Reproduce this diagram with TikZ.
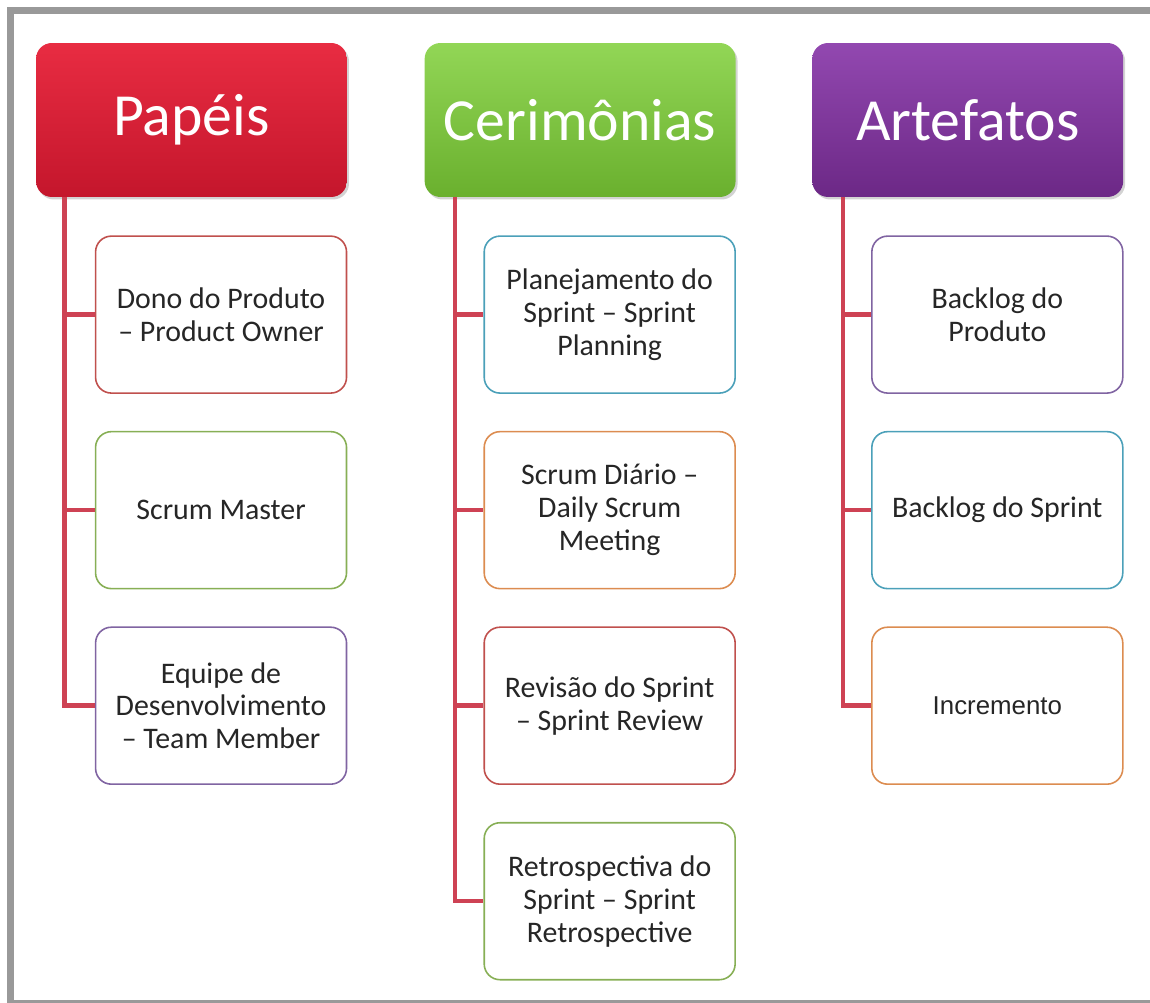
\documentclass[tikz,border=0pt]{standalone}
\usepackage{fontspec}
\setmainfont{Carlito}
\newfontfamily\arialfont{Liberation Sans}
\usetikzlibrary{positioning,shadows}

\definecolor{framegray}{RGB}{153,153,153}
\definecolor{trunkred}{RGB}{206,66,84}
\definecolor{redtop}{RGB}{232,44,66}
\definecolor{redbot}{RGB}{196,22,44}
\definecolor{greentop}{RGB}{146,214,86}
\definecolor{greenbot}{RGB}{106,176,46}
\definecolor{purpletop}{RGB}{146,72,176}
\definecolor{purplebot}{RGB}{108,40,134}
\definecolor{lnred}{RGB}{192,80,77}
\definecolor{lngreen}{RGB}{135,175,85}
\definecolor{lnpurple}{RGB}{128,100,162}
\definecolor{lnteal}{RGB}{75,160,185}
\definecolor{lnorange}{RGB}{220,140,80}

\tikzset{
    head/.style={rectangle, rounded corners=9pt, minimum width=6.22cm, minimum height=3.08cm,
        text=white, font=\fontsize{34}{40}\selectfont,
        drop shadow={opacity=0.35, shadow xshift=0.04cm, shadow yshift=-0.05cm}},
    item/.style={rectangle, rounded corners=9pt, draw, line width=0.9pt, fill=white,
        minimum width=5.02cm, minimum height=3.14cm, align=center, text=black!85,
        font=\fontsize{17}{18.7}\selectfont},
    trunk/.style={draw=trunkred, line width=2.5pt}
}

\begin{document}
\begin{tikzpicture}[x=0.02cm, y=-0.02cm]
        \useasboundingbox (0,0) rectangle (1150,1003);
        \clip (0,0) rectangle (1150,1003);

        % outer frame, open on the right
        \draw[framegray, line width=4pt] (1200,10.5) -- (10.5,10.5) -- (10.5,1003.5) -- (1200,1003.5);

        %-----Headers-----
        \node[head, top color=redtop, bottom color=redbot] (papeis) at (191.5,120) {Papéis};
        \node[head, top color=greentop, bottom color=greenbot, right=1.54cm of papeis] (cerim) {Cerimônias};
        \node[head, top color=purpletop, bottom color=purplebot, right=1.52cm of cerim] (artef) {Artefatos};

        %-----Papeis-----
        \node[item, draw=lnred, below=0.76cm of papeis.south east, anchor=north east] (dono) {Dono do Produto\\– Product Owner};
        \node[item, draw=lngreen, below=0.74cm of dono] (master) {Scrum Master};
        \node[item, draw=lnpurple, below=0.74cm of master] (equipe) {Equipe de\\Desenvolvimento\\– Team Member};

        %-----Cerimonias-----
        \node[item, draw=lnteal, below=0.76cm of cerim.south east, anchor=north east] (planning) {Planejamento do\\Sprint – Sprint\\Planning};
        \node[item, draw=lnorange, below=0.74cm of planning] (daily) {Scrum Diário –\\Daily Scrum\\Meeting};
        \node[item, draw=lnred, below=0.74cm of daily] (review) {Revisão do Sprint\\– Sprint Review};
        \node[item, draw=lngreen, below=0.74cm of review] (retro) {Retrospectiva do\\Sprint – Sprint\\Retrospective};

        %-----Artefatos-----
        \node[item, draw=lnpurple, below=0.76cm of artef.south east, anchor=north east] (bproduto) {Backlog do\\Produto};
        \node[item, draw=lnteal, below=0.74cm of bproduto] (bsprint) {Backlog do Sprint};
        \node[item, draw=lnorange, below=0.74cm of bsprint, font=\arialfont\fontsize{14.7}{18}\selectfont] (incr) {Incremento};

        %-----Connectors-----
        \draw[trunk] ([xshift=0.58cm]papeis.south west) |- (dono.west);
        \draw[trunk] ([xshift=0.58cm]papeis.south west) |- (master.west);
        \draw[trunk] ([xshift=0.58cm]papeis.south west) |- (equipe.west);

        \draw[trunk] ([xshift=0.62cm]cerim.south west) |- (planning.west);
        \draw[trunk] ([xshift=0.62cm]cerim.south west) |- (daily.west);
        \draw[trunk] ([xshift=0.62cm]cerim.south west) |- (review.west);
        \draw[trunk] ([xshift=0.62cm]cerim.south west) |- (retro.west);

        \draw[trunk] ([xshift=0.62cm]artef.south west) |- (bproduto.west);
        \draw[trunk] ([xshift=0.62cm]artef.south west) |- (bsprint.west);
        \draw[trunk] ([xshift=0.62cm]artef.south west) |- (incr.west);

\end{tikzpicture}
\end{document}
